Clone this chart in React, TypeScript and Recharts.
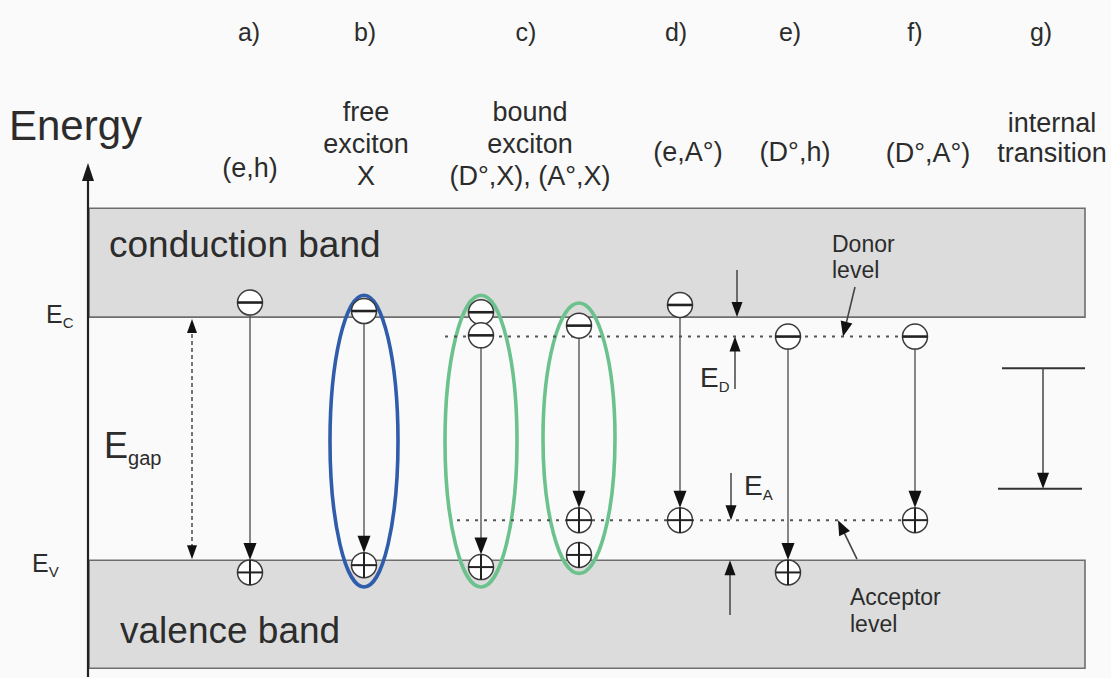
import React from 'react';
import {
  ComposedChart,
  XAxis,
  YAxis,
  ReferenceArea,
  ReferenceLine,
  ReferenceDot,
  Scatter,
} from 'recharts';

// Energy in arbitrary units: valence band edge E_V = 0, conduction band edge E_C = 100.
// The horizontal axis only places the transition columns across the diagram.
const E_V = 0;
const E_C = 100;
const DONOR = 92;
const ACCEPTOR = 16.5;

const X_DOMAIN: [number, number] = [0, 1111];
const E_DOMAIN: [number, number] = [-48, 230];

const bands = [
  { name: 'conduction', x1: 89, x2: 1085, lo: E_C, hi: 144.8 },
  { name: 'valence', x1: 89, x2: 1085, lo: -44.4, hi: E_V },
];

const impurityLevels = [
  { name: 'donor', x1: 445, x2: 915, e: DONOR },
  { name: 'acceptor', x1: 457, x2: 915, e: ACCEPTOR },
];

// electrons (−) and holes (+) of each recombination channel
const electrons = [
  { x: 250, e: 106 },
  { x: 364, e: 102.5 },
  { x: 481, e: 102 },
  { x: 481, e: 92.5 },
  { x: 579, e: 96.5 },
  { x: 680, e: 105 },
  { x: 788, e: DONOR },
  { x: 915, e: DONOR },
];

const holes = [
  { x: 250, e: -5 },
  { x: 364, e: -2 },
  { x: 481, e: -2.8 },
  { x: 579, e: ACCEPTOR },
  { x: 579, e: 2.2 },
  { x: 680, e: ACCEPTOR },
  { x: 788, e: -5 },
  { x: 915, e: ACCEPTOR },
];

const transitions = [
  { x: 250, from: 106, to: -5 },
  { x: 364, from: 102.5, to: -2 },
  { x: 481, from: 92.5, to: -2.8 },
  { x: 579, from: 96.5, to: ACCEPTOR },
  { x: 680, from: 105, to: ACCEPTOR },
  { x: 788, from: DONOR, to: -5 },
  { x: 915, from: DONOR, to: ACCEPTOR },
];

// exciton envelopes: free exciton (blue), bound excitons (green)
const excitons = [
  { x1: 330, x2: 398, lo: -11, hi: 109, color: '#2f5cab' },
  { x1: 445, x2: 517, lo: -11, hi: 109, color: '#6cc28c' },
  { x1: 543, x2: 615, lo: -5.4, hi: 105.8, color: '#6cc28c' },
];

// ionisation energy markers E_D and E_A
const ionisationArrows = [
  { x: 737, from: 119.4, to: E_C },
  { x: 735, from: 70.4, to: DONOR },
  { x: 731, from: 35.9, to: ACCEPTOR },
  { x: 730, from: -22.5, to: E_V },
];

// internal transition between two levels of a centre
const internalLevels = [
  { x1: 1002, x2: 1085, e: 79 },
  { x1: 998, x2: 1082, e: 29.4 },
];
const internalTransition = { x: 1043, from: 79, to: 29.4 };

const levelPointers = [
  { x1: 855, e1: 112.4, x2: 843, e2: DONOR },
  { x1: 857, e1: 0.5, x2: 838, e2: ACCEPTOR },
];

const energyAxis = { x: 88, from: -48, to: 163.4 };
const gapMarker = { x: 192, from: E_V, to: E_C };

const columnLetters = [
  { x: 249, text: 'a)' },
  { x: 365, text: 'b)' },
  { x: 526, text: 'c)' },
  { x: 676, text: 'd)' },
  { x: 790, text: 'e)' },
  { x: 915, text: 'f)' },
  { x: 1041, text: 'g)' },
];
const LETTER_E = 213.5;

const columnTitles = [
  { x: 250, lines: ['(e,h)'], e: [157.6] },
  { x: 366, lines: ['free', 'exciton', 'X'], e: [180.6, 167.5, 154.3] },
  { x: 530, lines: ['bound', 'exciton', '(D°,X), (A°,X)'], e: [180.6, 167.5, 154.3] },
  { x: 688, lines: ['(e,A°)'], e: [164.2] },
  { x: 795, lines: ['(D°,h)'], e: [164.2] },
  { x: 928, lines: ['(D°,A°)'], e: [163.8] },
  { x: 1052, lines: ['internal', 'transition'], e: [176.1, 163.8] },
];

const plainLabels = [
  { x: 9, e: 172.8, text: 'Energy', size: 42 },
  { x: 109, e: 124.7, text: 'conduction band', size: 37 },
  { x: 120, e: -34, text: 'valence band', size: 37 },
  { x: 832, e: 126.8, text: 'Donor', size: 23 },
  { x: 832, e: 116.1, text: 'level', size: 23 },
  { x: 850, e: -18.4, text: 'Acceptor', size: 23 },
  { x: 850, e: -29.5, text: 'level', size: 23 },
];

const symbolLabels = [
  { x: 46, e: 97.6, main: 'E', sub: 'C', size: 25, subSize: 15 },
  { x: 32, e: -4.8, main: 'E', sub: 'V', size: 25, subSize: 15 },
  { x: 104, e: 42.1, main: 'E', sub: 'gap', size: 36, subSize: 20 },
  { x: 700, e: 71.3, main: 'E', sub: 'D', size: 28, subSize: 15 },
  { x: 744, e: 26.9, main: 'E', sub: 'A', size: 28, subSize: 15 },
];

const FONT = '"Liberation Sans", Arial, Helvetica, sans-serif';
const INK = '#2c2c2c';
const R = 12.5;

type ArrowOpts = {
  color: string;
  width: number;
  head: number;
  half: number;
  startGap?: number;
  endGap?: number;
  dash?: string;
  both?: boolean;
  headColor?: string;
};

const arrowShape = (o: ArrowOpts) => (p: any) => {
  const { x1, y1, x2, y2 } = p;
  const dx = x2 - x1;
  const dy = y2 - y1;
  const len = Math.hypot(dx, dy) || 1;
  const ux = dx / len;
  const uy = dy / len;
  const sx = x1 + ux * (o.startGap || 0);
  const sy = y1 + uy * (o.startGap || 0);
  const ex = x2 - ux * (o.endGap || 0);
  const ey = y2 - uy * (o.endGap || 0);
  const head = (tx: number, ty: number, dirx: number, diry: number) => {
    const bx = tx - dirx * o.head;
    const by = ty - diry * o.head;
    const px = -diry * o.half;
    const py = dirx * o.half;
    return `${tx},${ty} ${bx + px},${by + py} ${bx - px},${by - py}`;
  };
  const lsx = o.both ? sx + ux * o.head * 0.8 : sx;
  const lsy = o.both ? sy + uy * o.head * 0.8 : sy;
  const lex = ex - ux * o.head * 0.8;
  const ley = ey - uy * o.head * 0.8;
  return (
    <g>
      <line x1={lsx} y1={lsy} x2={lex} y2={ley} stroke={o.color} strokeWidth={o.width} strokeDasharray={o.dash} />
      <polygon points={head(ex, ey, ux, uy)} fill={o.headColor || '#111'} />
      {o.both && <polygon points={head(sx, sy, -ux, -uy)} fill={o.headColor || '#111'} />}
    </g>
  );
};

const plainSegment = (color: string, width: number, dash?: string) => (p: any) => (
  <line x1={p.x1} y1={p.y1} x2={p.x2} y2={p.y2} stroke={color} strokeWidth={width} strokeDasharray={dash} />
);

const ElectronMark = (p: any) => (
  <g>
    <circle cx={p.cx} cy={p.cy} r={R} fill="#fff" stroke="#3a3a3a" strokeWidth={1.5} />
    <line x1={p.cx - R} y1={p.cy} x2={p.cx + R} y2={p.cy} stroke="#222" strokeWidth={2.6} />
  </g>
);

const HoleMark = (p: any) => (
  <g>
    <circle cx={p.cx} cy={p.cy} r={R} fill="#fff" stroke="#3a3a3a" strokeWidth={1.5} />
    <line x1={p.cx - R} y1={p.cy} x2={p.cx + R} y2={p.cy} stroke="#222" strokeWidth={2} />
    <line x1={p.cx} y1={p.cy - R} x2={p.cx} y2={p.cy + R} stroke="#222" strokeWidth={2} />
  </g>
);

export default function App() {
  return (
    <div style={{ position: 'absolute', left: 0, top: 0, width: 1111, height: 678, background: '#fafafa' }}>
      <ComposedChart width={1111} height={678} margin={{ top: 1, right: 0, bottom: 1, left: 0 }}>
        <XAxis type="number" dataKey="x" domain={X_DOMAIN} allowDataOverflow hide />
        <YAxis type="number" dataKey="e" domain={E_DOMAIN} allowDataOverflow hide />

        {bands.map((b) => (
          <ReferenceArea
            key={b.name}
            x1={b.x1}
            x2={b.x2}
            y1={b.lo}
            y2={b.hi}
            fill="#dcdcdc"
            fillOpacity={1}
            stroke="#6e6e6e"
            strokeWidth={1.6}
          />
        ))}

        {excitons.map((ex, i) => (
          <ReferenceArea
            key={`exciton-${i}`}
            x1={ex.x1}
            x2={ex.x2}
            y1={ex.lo}
            y2={ex.hi}
            shape={(p: any) => (
              <ellipse
                cx={p.x + p.width / 2}
                cy={p.y + p.height / 2}
                rx={Math.abs(p.width) / 2}
                ry={Math.abs(p.height) / 2}
                fill="none"
                stroke={ex.color}
                strokeWidth={3.6}
              />
            )}
          />
        ))}

        {impurityLevels.map((l) => (
          <ReferenceLine
            key={l.name}
            segment={[{ x: l.x1, y: l.e }, { x: l.x2, y: l.e }]}
            shape={plainSegment('#555', 2, '3 6')}
          />
        ))}

        {internalLevels.map((l, i) => (
          <ReferenceLine
            key={`internal-${i}`}
            segment={[{ x: l.x1, y: l.e }, { x: l.x2, y: l.e }]}
            shape={plainSegment('#333', 2)}
          />
        ))}

        <ReferenceLine
          segment={[{ x: energyAxis.x, y: energyAxis.from }, { x: energyAxis.x, y: energyAxis.to }]}
          shape={arrowShape({ color: '#222', width: 2.2, head: 18, half: 6, headColor: '#1a1a1a' })}
        />

        <ReferenceLine
          segment={[{ x: gapMarker.x, y: gapMarker.from }, { x: gapMarker.x, y: gapMarker.to }]}
          shape={arrowShape({ color: '#555', width: 1.6, head: 14, half: 5, dash: '4 3', both: true, startGap: 1, endGap: 2 })}
        />

        {transitions.map((t, i) => (
          <ReferenceLine
            key={`tr-${i}`}
            segment={[{ x: t.x, y: t.from }, { x: t.x, y: t.to }]}
            shape={arrowShape({ color: '#555', width: 1.4, head: 17, half: 6.5, startGap: R, endGap: R })}
          />
        ))}

        {ionisationArrows.map((a, i) => (
          <ReferenceLine
            key={`ion-${i}`}
            segment={[{ x: a.x, y: a.from }, { x: a.x, y: a.to }]}
            shape={arrowShape({ color: '#444', width: 1.5, head: 15, half: 5.5 })}
          />
        ))}

        <ReferenceLine
          segment={[
            { x: internalTransition.x, y: internalTransition.from },
            { x: internalTransition.x, y: internalTransition.to },
          ]}
          shape={arrowShape({ color: '#444', width: 1.5, head: 16, half: 6 })}
        />

        {levelPointers.map((p, i) => (
          <ReferenceLine
            key={`ptr-${i}`}
            segment={[{ x: p.x1, y: p.e1 }, { x: p.x2, y: p.e2 }]}
            shape={arrowShape({ color: '#444', width: 1.6, head: 15, half: 6 })}
          />
        ))}

        <Scatter data={electrons} isAnimationActive={false} shape={ElectronMark} />
        <Scatter data={holes} isAnimationActive={false} shape={HoleMark} />

        {columnLetters.map((c) => (
          <ReferenceDot
            key={c.text}
            x={c.x}
            y={LETTER_E}
            r={0}
            shape={(p: any) => (
              <text x={p.cx} y={p.cy} textAnchor="middle" fontSize={25} fontFamily={FONT} fill={INK}>
                {c.text}
              </text>
            )}
          />
        ))}

        {columnTitles.flatMap((c) =>
          c.lines.map((line, j) => (
            <ReferenceDot
              key={`${c.x}-${j}`}
              x={c.x}
              y={c.e[j]}
              r={0}
              shape={(p: any) => (
                <text x={p.cx} y={p.cy} textAnchor="middle" fontSize={27} fontFamily={FONT} fill={INK}>
                  {line}
                </text>
              )}
            />
          ))
        )}

        {plainLabels.map((l, i) => (
          <ReferenceDot
            key={`lbl-${i}`}
            x={l.x}
            y={l.e}
            r={0}
            shape={(p: any) => (
              <text x={p.cx} y={p.cy} textAnchor="start" fontSize={l.size} fontFamily={FONT} fill={INK}>
                {l.text}
              </text>
            )}
          />
        ))}

        {symbolLabels.map((s, i) => (
          <ReferenceDot
            key={`sym-${i}`}
            x={s.x}
            y={s.e}
            r={0}
            shape={(p: any) => (
              <text x={p.cx} y={p.cy} textAnchor="start" fontSize={s.size} fontFamily={FONT} fill={INK}>
                {s.main}
                <tspan fontSize={s.subSize} dy={s.subSize * 0.35}>
                  {s.sub}
                </tspan>
              </text>
            )}
          />
        ))}
      </ComposedChart>
    </div>
  );
}
